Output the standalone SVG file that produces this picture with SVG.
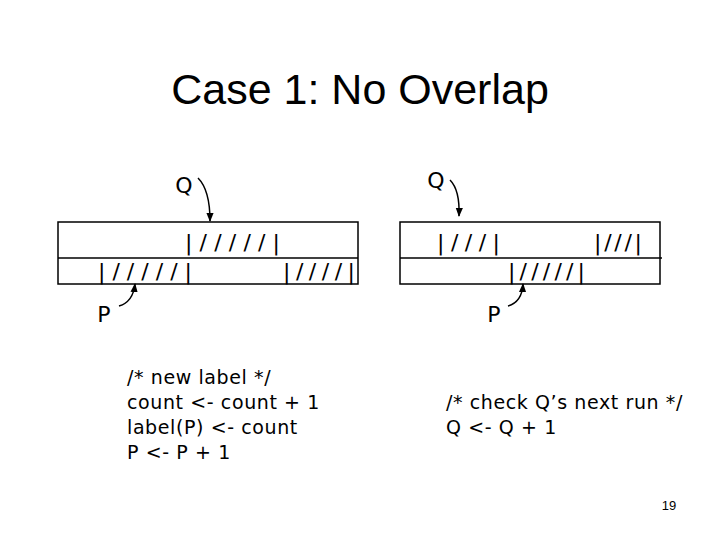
<svg xmlns="http://www.w3.org/2000/svg" width="720" height="540" viewBox="0 0 720 540">
<style>
.t{font-family:"DejaVu Sans",sans-serif;font-size:19px;fill:#000;letter-spacing:0.6px}
.r{font-family:"DejaVu Sans",sans-serif;font-size:22px;fill:#000}
.b{fill:#fff;stroke:#000;stroke-width:1.5}
.c{fill:none;stroke:#000;stroke-width:1.5}
</style>
<defs><marker id="a" viewBox="0 0 10 10" refX="9" refY="5" markerWidth="6" markerHeight="6" orient="auto"><path d="M0,1 L10,5 L0,9z" fill="#000"/></marker></defs>
<rect width="720" height="540" fill="#fff"/>
<text x="360" y="104" text-anchor="middle" style="font-family:'Liberation Sans',sans-serif;font-size:43px">Case 1: No Overlap</text>
<g id="left-box">
<rect class="b" x="58" y="222" width="300" height="62"/>
<line class="c" x1="58" y1="258" x2="358" y2="258"/>
<text class="r" x="185" y="250" textLength="95" lengthAdjust="spacing">|/////|</text>
<text class="r" x="98" y="279" textLength="94" lengthAdjust="spacing">|/////|</text>
<text class="r" x="283" y="279" textLength="72" lengthAdjust="spacing">|////|</text>
</g>
<g id="right-box">
<rect class="b" x="400" y="222" width="260" height="62"/>
<line class="c" x1="400" y1="258" x2="662" y2="258"/>
<text class="r" x="437" y="250" textLength="63" lengthAdjust="spacing">|///|</text>
<text class="r" x="594" y="250" textLength="48" lengthAdjust="spacing">|///|</text>
<text class="r" x="508" y="279" textLength="77" lengthAdjust="spacing">|/////|</text>
</g>
<g id="labels">
<text class="r" x="184" y="193" text-anchor="middle">Q</text>
<text class="r" x="436" y="188" text-anchor="middle">Q</text>
<text class="r" x="104" y="322" text-anchor="middle">P</text>
<text class="r" x="494" y="322" text-anchor="middle">P</text>
</g>
<g id="connectors">
<path class="c" d="M198,178 Q210,190 210,221" marker-end="url(#a)"/>
<path class="c" d="M450,180 Q460,190 459,216" marker-end="url(#a)"/>
<path class="c" d="M119,306 Q133,302 135,284" marker-end="url(#a)"/>
<path class="c" d="M508,306 Q522,302 523,284" marker-end="url(#a)"/>
</g>
<g id="code">
<text class="t" x="127" y="384">/* new label */</text>
<text class="t" x="127" y="409">count &lt;- count + 1</text>
<text class="t" x="127" y="434">label(P) &lt;- count</text>
<text class="t" x="127" y="459">P &lt;- P + 1</text>
<text class="t" x="446" y="409">/* check Q’s next run */</text>
<text class="t" x="446" y="434">Q &lt;- Q + 1</text>
</g>
<text x="669" y="510" text-anchor="middle" style="font-family:'Liberation Sans',sans-serif;font-size:13px">19</text>
</svg>
